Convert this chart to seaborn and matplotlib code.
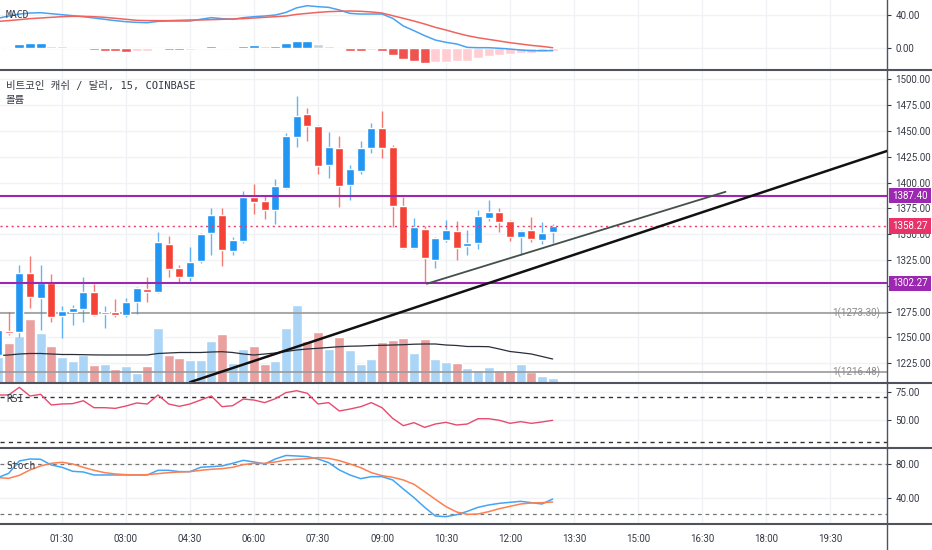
import matplotlib
matplotlib.use("Agg")
import matplotlib.pyplot as plt
import matplotlib.transforms as mtransforms
from matplotlib.lines import Line2D
from matplotlib.ticker import FormatStrFormatter
import numpy as np
import pandas as pd
import seaborn as sns

# 15분봉 (00:00 부터)
opens = [1233, 1256, 1255, 1312, 1288, 1303, 1271, 1275, 1278, 1294,
         1273, 1275, 1272, 1284, 1297, 1294, 1340, 1317, 1309, 1324,
         1351, 1369, 1334, 1343, 1386, 1382, 1373, 1395, 1444, 1466,
         1455, 1417, 1433, 1398, 1411, 1433, 1453, 1434, 1377, 1337,
         1355, 1325, 1344, 1353, 1339, 1341, 1366, 1371, 1363, 1347,
         1354, 1344, 1352]
highs = [1262, 1275, 1320, 1329, 1320, 1311, 1280, 1281, 1309, 1302,
         1280, 1287, 1288, 1299, 1309, 1352, 1348, 1320, 1338, 1351,
         1375, 1375, 1347, 1392, 1399, 1388, 1403, 1448, 1484, 1472,
         1456, 1449, 1445, 1417, 1440, 1458, 1469, 1436, 1386, 1366,
         1358, 1347, 1364, 1363, 1354, 1373, 1383, 1375, 1364, 1354,
         1367, 1362, 1360]
lows = [1228, 1252, 1250, 1279, 1257, 1265, 1249, 1262, 1265, 1271,
        1259, 1270, 1270, 1273, 1284, 1293, 1309, 1303, 1305, 1322,
        1330, 1319, 1330, 1341, 1370, 1365, 1360, 1394, 1434, 1440,
        1408, 1404, 1376, 1383, 1408, 1429, 1424, 1357, 1336, 1336,
        1302.27, 1317, 1342, 1325, 1330, 1336, 1363, 1352, 1343, 1330,
        1342, 1340, 1341]
closes = [1257, 1254, 1312, 1289, 1303, 1270, 1276, 1279, 1294, 1272,
          1275, 1272, 1284, 1298, 1294, 1342, 1316, 1309, 1323, 1350,
          1369, 1335, 1344, 1386, 1381, 1373, 1397, 1445, 1464, 1455,
          1416, 1434, 1397, 1413, 1433, 1453, 1433, 1377, 1337, 1357,
          1327, 1346, 1354, 1337, 1341, 1368, 1371, 1362, 1347, 1353,
          1345, 1351, 1358.27]
volumes = [257, 400, 467, 640, 493, 367, 260, 217, 277, 173,
           183, 140, 167, 100, 167, 550, 277, 250, 227, 227,
           417, 490, 193, 340, 367, 183, 213, 550, 777, 417,
           507, 333, 457, 330, 190, 233, 410, 427, 450, 293,
           437, 233, 203, 193, 143, 127, 160, 127, 127, 190,
           110, 70, 50]
volume_ma = [270, 275, 285, 290, 290, 285, 280, 280, 278, 276,
             275, 275, 275, 275, 275, 290, 295, 300, 300, 300,
             305, 308, 300, 285, 275, 285, 295, 310, 325, 335,
             342, 350, 358, 363, 365, 370, 372, 375, 378, 383,
             385, 385, 375, 370, 360, 360, 358, 335, 310, 298,
             285, 260, 235]
vol_top = 3130

macd_line = [36.3, 39.1, 41.5, 42.7, 43.1, 41.9, 40.7, 39.5, 38.3, 36.7,
             35.1, 33.5, 32.2, 31.4, 31.0, 32.6, 33.0, 33.0, 33.0, 35.1,
             37.1, 35.9, 35.1, 37.1, 38.3, 39.1, 40.3, 43.5, 49.0, 51.6,
             50.4, 49.6, 46.4, 42.3, 41.5, 41.5, 41.5, 36.3, 27.0, 21.3,
             15.3, 10.0, 7.2, 5.2, 1.1, 0.7, 0.7, 0.0, -0.9, -2.1,
             -2.9, -2.9, -2.9]
signal_line = [32.6, 33.5, 34.7, 35.9, 36.7, 37.5, 38.3, 38.7, 38.7, 38.3,
               37.5, 36.3, 35.1, 33.9, 33.5, 33.5, 33.5, 33.9, 34.3, 34.3,
               34.7, 35.1, 35.5, 35.9, 36.7, 37.5, 38.3, 39.1, 41.1, 42.3,
               43.5, 44.4, 44.8, 45.2, 44.8, 44.0, 42.7, 39.5, 36.3, 33.0,
               29.4, 25.4, 22.1, 18.5, 15.3, 12.8, 10.8, 8.8, 6.8, 5.2,
               3.5, 2.3, 0.7]
macd_hist = [0.5, 1.0, 5.3, 6.3, 6.5, 3.2, 2.4, 0.8, 0.4, -2.0,
             -3.2, -3.8, -4.0, -3.8, -2.8, -0.8, -1.6, -2.0, -1.6, 1.6,
             3.2, 1.6, 0.8, 3.2, 3.4, 3.1, 3.3, 6.3, 8.8, 9.0,
             5.3, 3.2, -0.6, -2.8, -2.9, -2.0, -2.8, -8.0, -13.3, -15.0,
             -17.4, -17.2, -16.5, -15.8, -15.5, -11.3, -9.3, -8.0, -7.3, -6.0,
             -5.5, -4.8, -3.2]

rsi = [72.1, 72.1, 78.9, 71.2, 72.7, 63.2, 64.1, 64.4, 67.0, 60.8,
       60.8, 60.2, 62.3, 65.0, 64.1, 72.1, 64.1, 62.0, 64.1, 67.6,
       71.2, 61.7, 62.6, 68.5, 67.6, 65.3, 68.8, 74.2, 75.9, 73.6,
       64.1, 65.3, 57.9, 59.6, 61.7, 65.3, 60.8, 51.3, 44.8, 47.5,
       43.3, 46.3, 47.8, 45.4, 46.3, 51.0, 51.0, 49.6, 46.9, 48.4,
       46.9, 48.1, 49.6]

stoch_k = [64.0, 69.2, 84.0, 86.4, 86.0, 79.2, 76.4, 71.6, 70.8, 67.2,
           67.2, 67.2, 67.2, 67.2, 67.2, 72.8, 72.8, 71.2, 71.2, 76.4,
           77.2, 78.0, 81.2, 84.8, 82.8, 80.4, 86.4, 90.6, 90.0, 89.2,
           86.4, 82.0, 73.2, 67.2, 62.8, 65.2, 65.2, 61.2, 50.4, 40.0,
           28.4, 18.0, 17.2, 19.6, 23.6, 28.4, 31.2, 33.2, 34.4, 35.6,
           34.0, 32.4, 38.4]
stoch_d = [64.0, 63.2, 66.8, 73.2, 78.0, 81.2, 82.4, 80.4, 76.4, 72.8,
           70.0, 68.4, 67.6, 67.2, 67.6, 68.8, 70.0, 70.8, 71.2, 72.8,
           74.0, 74.8, 76.4, 79.6, 81.2, 81.2, 82.8, 85.2, 86.0, 86.8,
           88.0, 87.2, 84.4, 80.4, 76.0, 70.0, 66.4, 64.4, 61.2, 56.0,
           47.2, 38.0, 29.2, 22.8, 20.0, 20.4, 23.2, 26.8, 29.6, 32.4,
           33.6, 34.0, 34.8]

time_labels = ["01:30", "03:00", "04:30", "06:00", "07:30", "09:00", "10:30",
               "12:00", "13:30", "15:00", "16:30", "18:00", "19:30"]
price_ticks = [1225, 1250, 1275, 1300, 1325, 1350, 1375, 1400, 1425, 1450, 1475, 1500]

resistance = 1387.40
support = 1302.27
last_price = 1358.27
fib_levels = [1273.30, 1216.48]

# 추세선 (봉 번호, 가격)
trend_long = ([18.0, 84.0], [1206.7, 1432.8])
trend_short = ([40.2, 68.2], [1302.0, 1391.0])

title = "비트코인 캐쉬 / 달러, 15, COINBASE"

# ---------------------------------------------------------------
sns.set_theme(style="white")
plt.rcParams['font.family'] = ['Roboto', 'DejaVu Sans']
mono_kr = ['DejaVu Sans Mono', 'Noto Sans CJK KR']

df = pd.DataFrame({"bar": np.arange(len(opens)), "open": opens, "high": highs,
                   "low": lows, "close": closes, "volume": volumes,
                   "vol_ma": volume_ma, "macd": macd_line, "signal": signal_line,
                   "hist": macd_hist, "rsi": rsi, "k": stoch_k, "d": stoch_d})
up = df["close"] >= df["open"]

W, H = 932, 550
X_RIGHT = 887
fig = plt.figure(figsize=(W / 100, H / 100), dpi=100)
fig.patch.set_facecolor("white")


def panel(top, bottom):
    return fig.add_axes([0, 1 - bottom / H, X_RIGHT / W, (bottom - top) / H])


ax_macd = panel(0, 69.5)
ax_main = panel(69.5, 382.5)
ax_rsi = panel(382.5, 448.3)
ax_st = panel(448.3, 524)
axes = [ax_macd, ax_main, ax_rsi, ax_st]

tick_idx = [(int(t[:2]) * 60 + int(t[3:])) / 15 for t in time_labels]
grid_c = "#f0f2f5"
text_c = "#363a45"

for ax in axes:
    ax.set_xlim(0.19, 83.34)
    ax.set_facecolor("none")
    for s in ["left", "top", "bottom"]:
        ax.spines[s].set_visible(False)
    ax.spines["right"].set_color("#50535e")
    ax.spines["right"].set_linewidth(1)
    ax.yaxis.tick_right()
    ax.yaxis.set_major_formatter(FormatStrFormatter("%.2f"))
    ax.tick_params(axis="y", labelsize=7, colors=text_c, length=3, width=0.8, pad=3)
    ax.set_xticks(tick_idx)
    ax.tick_params(axis="x", length=0, labelbottom=False)
    ax.grid(True, color=grid_c, lw=1)
    ax.set_axisbelow(True)

# ---- MACD ----
hist_colors = []
prev = 0.0
for h in macd_hist:
    if h >= 0:
        hist_colors.append("#2196f3" if h > prev else "#c5d3de")
    else:
        hist_colors.append("#ef5350" if h < prev else "#ffcdd2")
    prev = h
ax_macd.bar(df["bar"], df["hist"], width=0.92, color=hist_colors, zorder=2)
sns.lineplot(data=df, x="bar", y="macd", ax=ax_macd, color="#4aa3f0", lw=1.1, zorder=3)
sns.lineplot(data=df, x="bar", y="signal", ax=ax_macd, color="#f0645f", lw=1.1, zorder=3)
ax_macd.set_ylim(-25.7, 58.5)
ax_macd.set_yticks([0, 40])
ax_macd.text(6 / X_RIGHT, 1 - 15 / 69.5, "MACD", transform=ax_macd.transAxes,
             fontsize=7, color=text_c, va="center", family=mono_kr)

# ---- main: volume, candles, lines ----
xt = ax_main.get_xaxis_transform()
vol_colors = np.where(up, "#abd5f7", "#eba0a0")
ax_main.bar(df["bar"], df["volume"] / vol_top, width=0.92, color=vol_colors,
            transform=xt, zorder=1.6)
ax_main.plot(df["bar"], df["vol_ma"] / vol_top, color="#2a2e39", lw=0.9, transform=xt, zorder=1.7)

candle_colors = np.where(up, "#2196f3", "#f44336")
ax_main.vlines(df["bar"], df["low"], df["high"], colors=candle_colors, lw=1, alpha=0.7, zorder=3)
body_lo = np.minimum(df["open"], df["close"])
body_h = np.maximum(np.abs(df["close"] - df["open"]), 1.0)
ax_main.bar(df["bar"], body_h, bottom=body_lo, width=0.76, color=candle_colors, zorder=4)

ax_main.axhline(resistance, color="#9c27b0", lw=1.5, zorder=5)
ax_main.axhline(support, color="#9c27b0", lw=1.5, zorder=5)
ax_main.axhline(last_price, color="#ec3b68", lw=1, ls=(0, (1.5, 2.5)), zorder=5)
bt = mtransforms.blended_transform_factory(ax_main.transAxes, ax_main.transData)
for lv in fib_levels:
    ax_main.axhline(lv, color="#9a9a9a", lw=1.2, zorder=2)
    ax_main.text(0.992, lv, "1(%.2f)" % lv, transform=bt, ha="right", va="center",
                 fontsize=7, color="#8a8a8a", zorder=2)

ax_main.plot(trend_long[0], trend_long[1], color="#111111", lw=1.8, zorder=6)
ax_main.plot(trend_short[0], trend_short[1], color="#44504a", lw=1.3, zorder=6)

ax_main.set_ylim(1206.4, 1509.4)
ax_main.set_yticks(price_ticks,
                   labels=["" if p == 1300 else "%.2f" % p for p in price_ticks])

for val, col in [(resistance, "#9c27b0"), (last_price, "#e8336a"), (support, "#9c27b0")]:
    ax_main.text(910 / X_RIGHT, val, "%.2f" % val, transform=bt, ha="center",
                 va="center", fontsize=7, color="white", clip_on=False, zorder=10,
                 bbox=dict(boxstyle="square,pad=0.3", fc=col, ec="none"))

ax_main.text(6 / X_RIGHT, 1 - (86 - 69.5) / 313, title, transform=ax_main.transAxes,
             fontsize=7.5, color=text_c, va="center", family=mono_kr)
ax_main.text(6 / X_RIGHT, 1 - (100 - 69.5) / 313, "볼륨", transform=ax_main.transAxes,
             fontsize=7.5, color=text_c, va="center", family=mono_kr)

# ---- RSI ----
sns.lineplot(data=df, x="bar", y="rsi", ax=ax_rsi, color="#e84a6f", lw=1, zorder=3)
for lv in [70, 30]:
    ax_rsi.axhline(lv, color="#333333", lw=1, ls=(0, (3, 3)), zorder=2)
ax_rsi.set_ylim(24.7, 83.2)
ax_rsi.set_yticks([50, 75])
ax_rsi.text(6 / X_RIGHT, 1 - (399 - 382.5) / 65.8, "RSI", transform=ax_rsi.transAxes,
            fontsize=7, color=text_c, va="center", family=mono_kr)

# ---- Stoch ----
sns.lineplot(data=df, x="bar", y="k", ax=ax_st, color="#42a5f5", lw=1.1, zorder=3)
sns.lineplot(data=df, x="bar", y="d", ax=ax_st, color="#ff7f50", lw=1.1, zorder=3)
for lv in [80, 20]:
    ax_st.axhline(lv, color="#777777", lw=0.9, ls=(0, (3, 3)), zorder=2)
ax_st.set_ylim(8.4, 99.2)
ax_st.set_yticks([40, 80])
ax_st.text(6 / X_RIGHT, 1 - (466 - 448.3) / 75.7, "Stoch", transform=ax_st.transAxes,
           fontsize=7, color=text_c, va="center", family=mono_kr)
ax_st.set_xticks(tick_idx, labels=time_labels)
ax_st.tick_params(axis="x", length=3, width=0.8, colors=text_c, labelsize=7,
                  labelbottom=True, pad=4)

for ax in axes:
    ax.set(xlabel="", ylabel="")

# panel dividers and lower right axis line
for y in [69.5, 382.5, 448.3, 524]:
    fig.add_artist(Line2D([0, 1], [1 - y / H, 1 - y / H], transform=fig.transFigure,
                          color="#50535e", lw=1.5))
fig.add_artist(Line2D([X_RIGHT / W, X_RIGHT / W], [0, 1 - 524 / H],
                      transform=fig.transFigure, color="#50535e", lw=1))

fig.savefig("out.png", dpi=100)
